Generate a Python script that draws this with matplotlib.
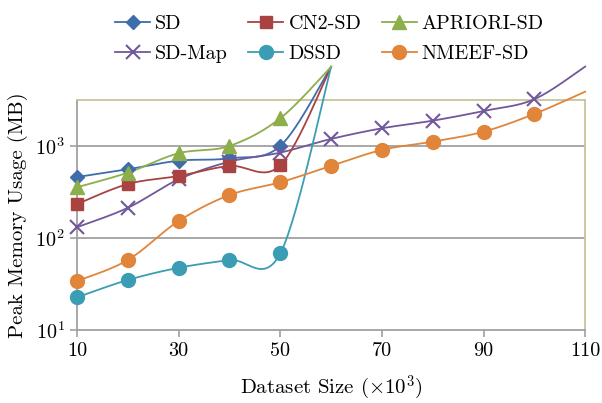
import numpy as np
import matplotlib
matplotlib.use("Agg")
import matplotlib.pyplot as plt

plt.rcParams['font.family'] = 'serif'
plt.rcParams['font.serif'] = ['cmr10', 'DejaVu Serif']
plt.rcParams['mathtext.fontset'] = 'cm'
plt.rcParams['axes.formatter.use_mathtext'] = True

x_full = [10, 20, 30, 40, 50, 60, 70, 80, 90, 100, 110]
x_short = [10, 20, 30, 40, 50, 60]

sd = [460, 558, 692, 735, 1000, 7240]
cn2 = [234, 386, 472, 607, 617, 7240]
apriori = [356, 513, 834, 1000, 2000, 7240]
dssd = [22.7, 35, 47.5, 57.7, 68, 7240]
sdmap = [131, 213, 434, 675, 847, 1192, 1556, 1883, 2398, 3220, 7280]
nmeef = [34, 57.7, 153, 293, 403, 607, 906, 1114, 1429, 2228, 3890]

series = [
    ("SD", x_short, sd, "#3d6daa", "D", 7.5),
    ("SD-Map", x_full, sdmap, "#71589a", "x", 10),
    ("CN2-SD", x_short, cn2, "#ab4242", "s", 9),
    ("DSSD", x_short, dssd, "#3b9db3", "o", 10),
    ("APRIORI-SD", x_short, apriori, "#8cae4b", "^", 9.5),
    ("NMEEF-SD", x_full, nmeef, "#e0853a", "o", 10),
]


def smooth(xs, ys, n=30):
    P = np.column_stack([np.asarray(xs, float), np.log10(np.asarray(ys, float))])
    m = len(P)
    out = []
    for i in range(m - 1):
        p0 = P[i - 1] if i > 0 else P[i]
        p1 = P[i]
        p2 = P[i + 1]
        p3 = P[i + 2] if i + 2 < m else P[i + 1]
        b1 = p1 + (p2 - p0) / 6.0
        b2 = p2 - (p3 - p1) / 6.0
        t = np.linspace(0, 1, n)[:, None]
        seg = ((1 - t) ** 3) * p1 + 3 * ((1 - t) ** 2) * t * b1 + 3 * (1 - t) * t ** 2 * b2 + t ** 3 * p2
        out.append(seg if i == 0 else seg[1:])
    c = np.vstack(out)
    return c[:, 0], 10 ** c[:, 1]

fig = plt.figure(figsize=(6.02, 4.03), dpi=100)
ax = fig.add_axes([0.128, 0.181, 0.844, 0.571])
ax.set_yscale('log')
ax.set_xlim(10, 110)
ax.set_ylim(10, 10 ** 3.5)

for y in [100, 1000]:
    ax.axhline(y, color='#a0a0a0', lw=1.3, zorder=1)

handles = []
for name, xs, ys, col, mk, ms in series:
    sx, sy = smooth(xs, ys)
    ax.plot(sx, sy, color=col, lw=1.3, clip_on=False, zorder=3)
    mx = xs[:-1]
    my = ys[:-1]
    if mk == 'x':
        ax.plot(mx, my, ls='none', marker=mk, ms=ms, mew=1.5, color=col, clip_on=False, zorder=4)
    else:
        ax.plot(mx, my, ls='none', marker=mk, ms=ms, mfc=col, mec=col, color=col, clip_on=False, zorder=4)
    h, = ax.plot([], [], color=col, lw=1.3, marker=mk, ms=ms, mew=1.5 if mk == 'x' else 1.0,
                 mfc=col, mec=col)
    handles.append((h, name))

for s in ['top', 'right']:
    ax.spines[s].set_color('#c9c39b')
    ax.spines[s].set_linewidth(1.3)
for s in ['bottom', 'left']:
    ax.spines[s].set_color('#a0a0a0')
    ax.spines[s].set_linewidth(1.3)

ax.set_xticks([10, 30, 50, 70, 90, 110])
ax.set_xticklabels(['10', '30', '50', '70', '90', '110'])
ax.set_yticks([10, 100, 1000])
ax.set_yticklabels([r'$10^1$', r'$10^2$', r'$10^3$'])
ax.yaxis.set_minor_locator(matplotlib.ticker.NullLocator())
ax.tick_params(axis='both', which='major', direction='out', length=5, width=1.2,
               color='#a0a0a0', labelsize=14.5)
ax.tick_params(axis='y', pad=4)

ax.set_xlabel(r'Dataset Size ($\times10^3$)', fontsize=15, labelpad=10)
ax.set_ylabel('Peak Memory Usage (MB)', fontsize=15, labelpad=5)

fig.legend([h for h, _ in handles], [n for _, n in handles], ncol=3,
           loc='upper left', bbox_to_anchor=(0.161, 1.007), frameon=False,
           fontsize=14.5, handlelength=1.75, handletextpad=0.25, columnspacing=1.0,
           labelspacing=0.55)

fig.savefig('out.png', dpi=100)
